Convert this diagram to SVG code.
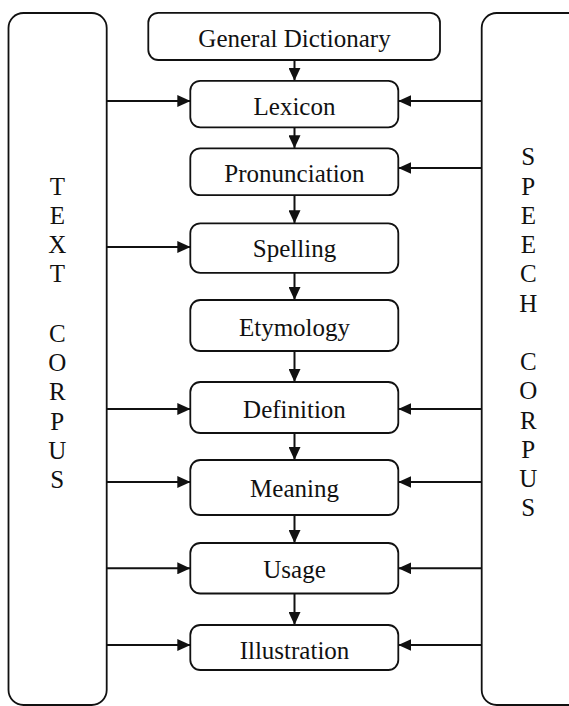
<svg xmlns="http://www.w3.org/2000/svg" width="569" height="706" viewBox="0 0 569 706">
  <defs>
    <marker id="arrow" markerUnits="userSpaceOnUse" markerWidth="13" markerHeight="12" refX="13" refY="6" orient="auto">
      <path d="M0,0 L13,6 L0,12 Z" fill="#111"/>
    </marker>
    <style>
      .box { fill: #fff; stroke: #111; stroke-width: 1.8; }
      .corpus { fill: none; stroke: #111; stroke-width: 1.8; }
      .lbl { font-family: "Liberation Serif", Tinos, "Times New Roman", "DejaVu Serif", serif; font-size: 25px; fill: #111; text-anchor: middle; }
      .link { stroke: #111; stroke-width: 2; fill: none; marker-end: url(#arrow); }
    </style>
  </defs>
  <rect width="569" height="706" fill="#fff"/>

  <!-- corpus panels -->
  <g id="text-corpus">
    <rect class="corpus" x="8.5" y="13" width="98.2" height="692" rx="15"/>
    <text class="lbl" x="57.3" y="195">T</text>
    <text class="lbl" x="57.3" y="224.2">E</text>
    <text class="lbl" x="57.3" y="253">X</text>
    <text class="lbl" x="57.3" y="282">T</text>
    <text class="lbl" x="57.3" y="341.6">C</text>
    <text class="lbl" x="57.3" y="371">O</text>
    <text class="lbl" x="57.3" y="400.2">R</text>
    <text class="lbl" x="57.3" y="429.6">P</text>
    <text class="lbl" x="57.3" y="458.6">U</text>
    <text class="lbl" x="57.3" y="487.8">S</text>
  </g>
  <g id="speech-corpus">
    <rect class="corpus" x="481.7" y="13" width="110" height="692" rx="15"/>
    <text class="lbl" x="528.3" y="165">S</text>
    <text class="lbl" x="528.3" y="194.6">P</text>
    <text class="lbl" x="528.3" y="224">E</text>
    <text class="lbl" x="528.3" y="253.2">E</text>
    <text class="lbl" x="528.3" y="282.4">C</text>
    <text class="lbl" x="528.3" y="311.6">H</text>
    <text class="lbl" x="528.3" y="370">C</text>
    <text class="lbl" x="528.3" y="399.4">O</text>
    <text class="lbl" x="528.3" y="428.8">R</text>
    <text class="lbl" x="528.3" y="458">P</text>
    <text class="lbl" x="528.3" y="487">U</text>
    <text class="lbl" x="528.3" y="516">S</text>
  </g>

  <!-- central chain -->
  <g id="general-dictionary">
    <rect class="box" x="148.3" y="12.8" width="291.7" height="47.2" rx="10"/>
    <text class="lbl" x="294.5" y="46.7">General Dictionary</text>
  </g>
  <g id="lexicon">
    <rect class="box" x="190.3" y="80.8" width="208" height="46.5" rx="10"/>
    <text class="lbl" x="294.5" y="115">Lexicon</text>
  </g>
  <g id="pronunciation">
    <rect class="box" x="190.3" y="148.3" width="208" height="46.9" rx="10"/>
    <text class="lbl" x="294.5" y="181.7">Pronunciation</text>
  </g>
  <g id="spelling">
    <rect class="box" x="190.3" y="223.3" width="208" height="49.5" rx="10"/>
    <text class="lbl" x="294.5" y="256.7">Spelling</text>
  </g>
  <g id="etymology">
    <rect class="box" x="190.3" y="300" width="208" height="51" rx="10"/>
    <text class="lbl" x="294.5" y="335.5">Etymology</text>
  </g>
  <g id="definition">
    <rect class="box" x="190.3" y="382" width="208" height="51" rx="10"/>
    <text class="lbl" x="294.5" y="417.5">Definition</text>
  </g>
  <g id="meaning">
    <rect class="box" x="190.3" y="460" width="208" height="55" rx="10"/>
    <text class="lbl" x="294.5" y="496.5">Meaning</text>
  </g>
  <g id="usage">
    <rect class="box" x="190.3" y="543" width="208" height="50.5" rx="10"/>
    <text class="lbl" x="294.5" y="578">Usage</text>
  </g>
  <g id="illustration">
    <rect class="box" x="190.3" y="625" width="208" height="45" rx="10"/>
    <text class="lbl" x="294.5" y="659">Illustration</text>
  </g>

  <!-- connectors -->
  <g id="connectors">
    <line class="link" x1="294.5" y1="60" x2="294.5" y2="80.8"/>
    <line class="link" x1="294.5" y1="127.3" x2="294.5" y2="148.3"/>
    <line class="link" x1="294.5" y1="195.2" x2="294.5" y2="223.3"/>
    <line class="link" x1="294.5" y1="272.8" x2="294.5" y2="300"/>
    <line class="link" x1="294.5" y1="351" x2="294.5" y2="382"/>
    <line class="link" x1="294.5" y1="433" x2="294.5" y2="460"/>
    <line class="link" x1="294.5" y1="515" x2="294.5" y2="543"/>
    <line class="link" x1="294.5" y1="593.5" x2="294.5" y2="625"/>

    <line class="link" x1="106.7" y1="101" x2="190.3" y2="101"/>
    <line class="link" x1="106.7" y1="247" x2="190.3" y2="247"/>
    <line class="link" x1="106.7" y1="409" x2="190.3" y2="409"/>
    <line class="link" x1="106.7" y1="482" x2="190.3" y2="482"/>
    <line class="link" x1="106.7" y1="568.3" x2="190.3" y2="568.3"/>
    <line class="link" x1="106.7" y1="645" x2="190.3" y2="645"/>

    <line class="link" x1="481.7" y1="101" x2="398.3" y2="101"/>
    <line class="link" x1="481.7" y1="168" x2="398.3" y2="168"/>
    <line class="link" x1="481.7" y1="409" x2="398.3" y2="409"/>
    <line class="link" x1="481.7" y1="482" x2="398.3" y2="482"/>
    <line class="link" x1="481.7" y1="568.3" x2="398.3" y2="568.3"/>
    <line class="link" x1="481.7" y1="645" x2="398.3" y2="645"/>
  </g>
</svg>
